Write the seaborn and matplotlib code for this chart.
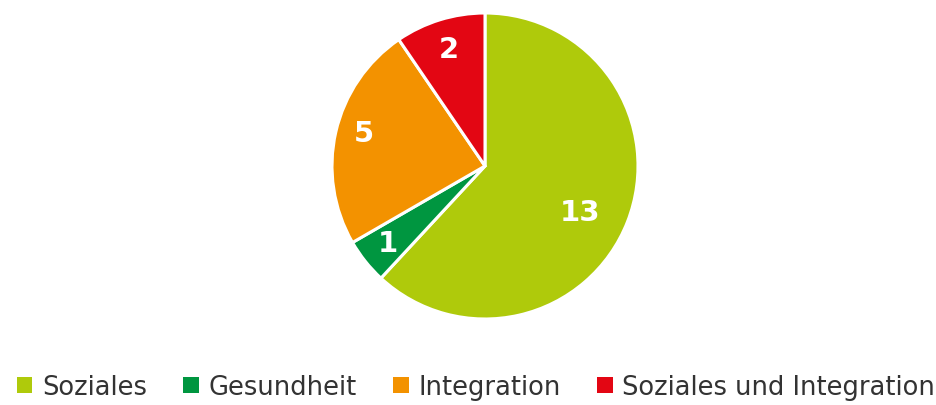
import numpy as np
import seaborn as sns
import matplotlib.pyplot as plt
from matplotlib.patches import Patch

categories = ['Soziales', 'Gesundheit', 'Integration', 'Soziales und Integration']
counts = [13, 1, 5, 2]
colors = ['#AFCA0B', '#009640', '#F39200', '#E30613']

sns.set_theme(style="white")
plt.rcParams['font.family'] = ['DejaVu Sans']

fig = plt.figure(figsize=(9.37, 4.06), dpi=100)
r_px = 153
cx, cy = 485, 167
ax = fig.add_axes([(cx - r_px) / 937, (406 - cy - r_px) / 406, 2 * r_px / 937, 2 * r_px / 406])

wedges, _ = ax.pie(counts, colors=colors, startangle=90, counterclock=False,
                   wedgeprops=dict(edgecolor='white', linewidth=2.2))
ax.set_xlim(-1.0, 1.0)
ax.set_ylim(-1.0, 1.0)
ax.set_aspect('equal')

# value labels inside the wedges
label_r = [0.69, 0.81, 0.82, 0.8]
for w, val, r in zip(wedges, counts, label_r):
    ang = np.deg2rad((w.theta1 + w.theta2) / 2)
    if val == max(counts):
        ang = ang - np.deg2rad(4.5)
    if val == 5:
        ang = ang - np.deg2rad(2.5)
    ax.text(r * np.cos(ang), r * np.sin(ang), str(val), ha='center', va='center',
            color='white', fontsize=21, fontweight='bold')

handles = [Patch(facecolor=c, edgecolor='none') for c in colors]
fig.legend(handles, categories, loc='center', bbox_to_anchor=(476 / 937, (406 - 388) / 406),
           ncol=4, frameon=False, fontsize=18.5, handlelength=0.6, handleheight=0.6,
           handletextpad=0.38, columnspacing=1.42, borderaxespad=0, borderpad=0,
           labelcolor='#333333')

fig.savefig('out.png', dpi=100)
